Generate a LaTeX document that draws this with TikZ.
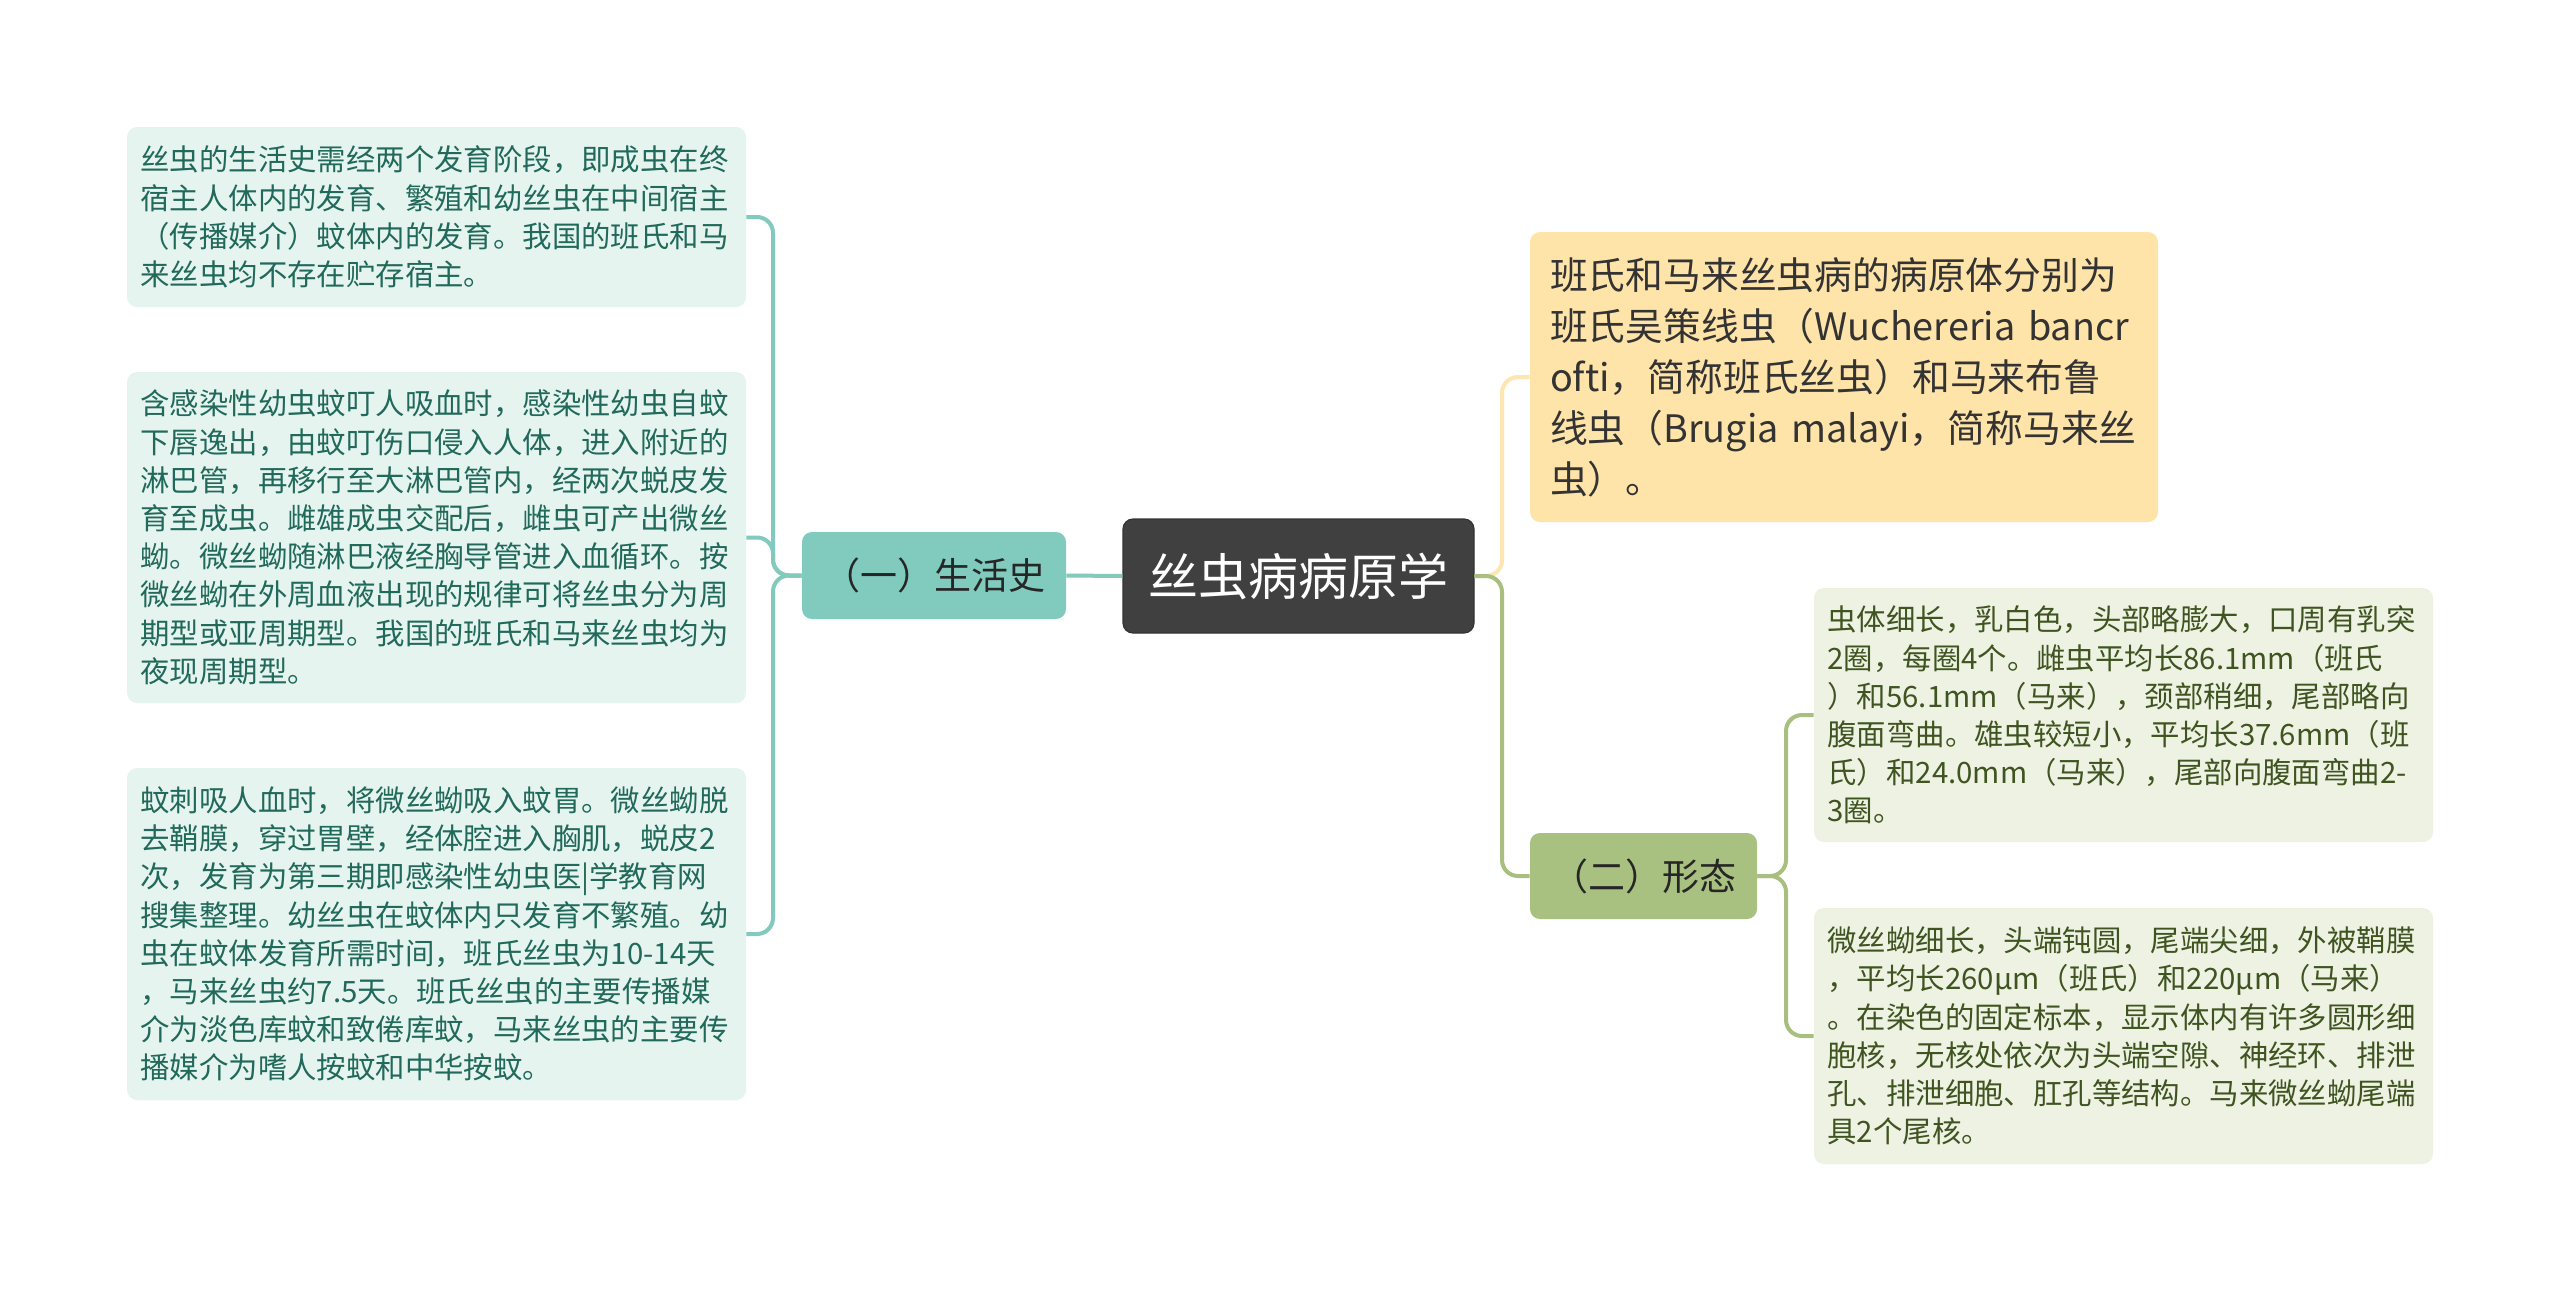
\documentclass[tikz,border=0pt]{standalone}
\usepackage{fontspec}
\newfontfamily\cjk{Noto Sans CJK SC}
\definecolor{cdark}{HTML}{404040}
\definecolor{cteal}{HTML}{80CBBD}
\definecolor{ctealline}{HTML}{82CABD}
\definecolor{cleafL}{HTML}{E6F4F0}
\definecolor{ctextL}{HTML}{21695A}
\definecolor{cyel}{HTML}{FFE4AA}
\definecolor{cyelline}{HTML}{FDE6B2}
\definecolor{cgreen}{HTML}{A8C080}
\definecolor{cgreenline}{HTML}{A8BF80}
\definecolor{cleafR}{HTML}{EEF2E3}
\definecolor{ctextR}{HTML}{3F5420}
\tikzset{
  base/.style={rectangle, rounded corners=5pt, inner sep=0pt, font=\cjk},
  rootbox/.style={base, fill=cdark, draw=black!80, line width=0.6pt, text=white,
    minimum width=175.5pt, minimum height=57pt, font=\cjk\fontsize{25pt}{30pt}\selectfont},
  mainL/.style={base, fill=cteal, text=black!85, minimum width=132pt, minimum height=43.5pt,
    font=\cjk\fontsize{18.5pt}{22pt}\selectfont},
  mainR/.style={base, fill=cgreen, text=black!85, minimum width=113.5pt, minimum height=43pt,
    font=\cjk\fontsize{18.5pt}{22pt}\selectfont},
  yelbox/.style={base, fill=cyel, text=black!80, text width=294pt, inner xsep=10pt,
    minimum height=145pt, align=left, font=\cjk\fontsize{18.9pt}{25.5pt}\selectfont},
  leafL/.style={base, fill=cleafL, text=ctextL, text width=296pt, inner xsep=6.75pt,
    align=left, font=\cjk\fontsize{14.7pt}{19.1pt}\selectfont},
  leafR/.style={base, fill=cleafR, text=ctextR, text width=296pt, inner xsep=6.75pt,
    align=left, font=\cjk\fontsize{14.7pt}{19.1pt}\selectfont},
  linkL/.style={draw=ctealline, line width=2pt, rounded corners=8pt},
  linkY/.style={draw=cyelline, line width=2pt, rounded corners=8pt},
  linkG/.style={draw=cgreenline, line width=2pt, rounded corners=8pt},
}
\begin{document}
\begin{tikzpicture}[x=0.5pt,y=-0.5pt]
\useasboundingbox (0,0) rectangle (2560,1291);
\fill[white] (0,0) rectangle (2560,1291);

\coordinate (tl) at (773,0);
\coordinate (tr) at (1502,0);
\coordinate (tr2) at (1786,0);

\node[rootbox] (root) at (1298.5,576) {丝虫病病原学};
\node[mainL] (m1) at (934,575.5) {（一）生活史};
\node[mainR] (m2) at (1643.5,876) {（二）形态};

\node[yelbox] (y1) at (1844,377) {班氏和马来丝虫病的病原体分别为\\班氏吴策线虫（Wuchereria~bancr\\ofti，简称班氏丝虫）和马来布鲁\\线虫（Brugia~malayi，简称马来丝\\虫）。};

\node[leafL, minimum height=90pt] (l1) at (436.5,217) {丝虫的生活史需经两个发育阶段，即成虫在终\\宿主人体内的发育、繁殖和幼丝虫在中间宿主\\（传播媒介）蚊体内的发育。我国的班氏和马\\来丝虫均不存在贮存宿主。};
\node[leafL, minimum height=165.5pt] (l2) at (436.5,537.5) {含感染性幼虫蚊叮人吸血时，感染性幼虫自蚊\\下唇逸出，由蚊叮伤口侵入人体，进入附近的\\淋巴管，再移行至大淋巴管内，经两次蜕皮发\\育至成虫。雌雄成虫交配后，雌虫可产出微丝\\蚴。微丝蚴随淋巴液经胸导管进入血循环。按\\微丝蚴在外周血液出现的规律可将丝虫分为周\\期型或亚周期型。我国的班氏和马来丝虫均为\\夜现周期型。};
\node[leafL, minimum height=166pt] (l3) at (436.5,934) {蚊刺吸人血时，将微丝蚴吸入蚊胃。微丝蚴脱\\去鞘膜，穿过胃壁，经体腔进入胸肌，蜕皮2\\次，发育为第三期即感染性幼虫医|学教育网\\搜集整理。幼丝虫在蚊体内只发育不繁殖。幼\\\mbox{虫在蚊体发育所需时间，班氏丝虫为10-14天}\\，马来丝虫约7.5天。班氏丝虫的主要传播媒\\介为淡色库蚊和致倦库蚊，马来丝虫的主要传\\播媒介为嗜人按蚊和中华按蚊。};

\node[leafR, minimum height=127pt] (r1) at (2123.5,715) {虫体细长，乳白色，头部略膨大，口周有乳突\\2圈，每圈4个。雌虫平均长86.1mm（班氏\\）和56.1mm（马来），颈部稍细，尾部略向\\腹面弯曲。雄虫较短小，平均长37.6mm（班\\\mbox{氏）和24.0mm（马来），尾部向腹面弯曲2-}\\3圈。};
\node[leafR, minimum height=128pt] (r2) at (2123.5,1036) {微丝蚴细长，头端钝圆，尾端尖细，外被鞘膜\\，平均长260μm（班氏）和220μm（马来）\\。在染色的固定标本，显示体内有许多圆形细\\胞核，无核处依次为头端空隙、神经环、排泄\\孔、排泄细胞、肛孔等结构。马来微丝蚴尾端\\具2个尾核。};

\draw[linkL] (root.west) -- (m1.east);
\draw[linkL] (m1.west) -- (m1.west -| tl) -- (l1.east -| tl) -- (l1.east);
\draw[linkL] (m1.west) -- (m1.west -| tl) -- (l2.east -| tl) -- (l2.east);
\draw[linkL] (m1.west) -- (m1.west -| tl) -- (l3.east -| tl) -- (l3.east);

\draw[linkY] (root.east) -- (root.east -| tr) -- (y1.west -| tr) -- (y1.west);
\draw[linkG] (root.east) -- (root.east -| tr) -- (m2.west -| tr) -- (m2.west);

\draw[linkG] (m2.east) -- (m2.east -| tr2) -- (r1.west -| tr2) -- (r1.west);
\draw[linkG] (m2.east) -- (m2.east -| tr2) -- (r2.west -| tr2) -- (r2.west);
\end{tikzpicture}
\end{document}
